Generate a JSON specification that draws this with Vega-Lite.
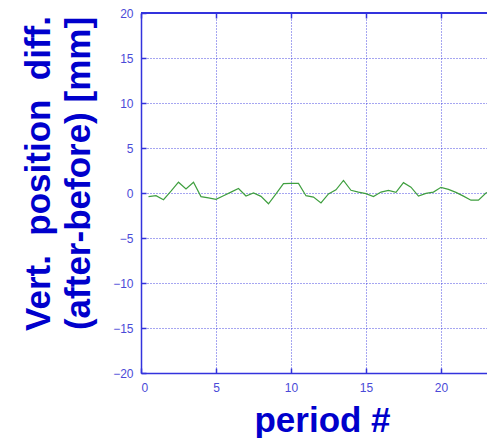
{
  "$schema": "https://vega.github.io/schema/vega-lite/v6.json",
  "autosize": {"type": "none"},
  "width": 346,
  "height": 360,
  "padding": {"left": 141, "top": 13, "right": 0, "bottom": 65},
  "background": "white",
  "view": {"stroke": null},
  "config": {"font": "Liberation Sans"},
  "data": {"values": [
    {"p": 0.5, "d": -0.4}, {"p": 1.0, "d": -0.3}, {"p": 1.5, "d": -0.75}, {"p": 2.0, "d": 0.2},
    {"p": 2.5, "d": 1.2}, {"p": 3.0, "d": 0.45}, {"p": 3.5, "d": 1.2}, {"p": 4.0, "d": -0.4},
    {"p": 4.5, "d": -0.55}, {"p": 5.0, "d": -0.7}, {"p": 5.5, "d": -0.3}, {"p": 6.0, "d": 0.1},
    {"p": 6.5, "d": 0.5}, {"p": 7.0, "d": -0.33}, {"p": 7.5, "d": 0.0}, {"p": 8.0, "d": -0.37},
    {"p": 8.5, "d": -1.2}, {"p": 9.0, "d": -0.1}, {"p": 9.5, "d": 1.05}, {"p": 10.0, "d": 1.07},
    {"p": 10.5, "d": 1.07}, {"p": 11.0, "d": -0.3}, {"p": 11.5, "d": -0.45}, {"p": 12.0, "d": -1.1},
    {"p": 12.5, "d": -0.1}, {"p": 13.0, "d": 0.35}, {"p": 13.5, "d": 1.4}, {"p": 14.0, "d": 0.3},
    {"p": 14.5, "d": 0.1}, {"p": 15.0, "d": -0.07}, {"p": 15.5, "d": -0.4}, {"p": 16.0, "d": 0.1},
    {"p": 16.5, "d": 0.3}, {"p": 17.0, "d": 0.07}, {"p": 17.5, "d": 1.15}, {"p": 18.0, "d": 0.65},
    {"p": 18.5, "d": -0.35}, {"p": 19.0, "d": -0.05}, {"p": 19.5, "d": 0.1}, {"p": 20.0, "d": 0.63},
    {"p": 20.5, "d": 0.4}, {"p": 21.0, "d": 0.07}, {"p": 21.5, "d": -0.35}, {"p": 22.0, "d": -0.8},
    {"p": 22.5, "d": -0.8}, {"p": 23.0, "d": 0.0}, {"p": 23.5, "d": 0.3}
  ]},
  "layer": [
    {
      "mark": {"type": "line", "color": "#3f9f3f", "strokeWidth": 1.2, "clip": true},
      "encoding": {
        "x": {"field": "p", "type": "quantitative",
          "scale": {"domain": [0, 23.07], "nice": false, "zero": false},
          "axis": {"values": [0, 5, 10, 15, 20], "title": "period #",
            "domainColor": "#3333dd", "domainWidth": 1.5,
            "tickColor": "#3333dd", "tickSize": -5, "tickWidth": 1.5,
            "labelColor": "#4a4ad8", "labelFontSize": 12, "labelPadding": 14,
            "labelFont": "Liberation Sans",
            "grid": true, "gridColor": "#3a3ae0", "gridDash": [1, 2], "gridOpacity": 0.9, "gridWidth": 1,
            "titleColor": "#0000cc", "titleFontSize": 35, "titleFontWeight": "bold",
            "titleX": 181, "titleY": 58, "titleBaseline": "alphabetic", "titleAnchor": null}},
        "y": {"field": "d", "type": "quantitative",
          "scale": {"domain": [-20, 20], "nice": false},
          "axis": {"values": [-20, -15, -10, -5, 0, 5, 10, 15, 20],
            "title": ["Vert.\u00a0 position\u00a0 diff.", "(after-before) [mm]"],
            "domainColor": "#3333dd", "domainWidth": 1.5,
            "tickColor": "#3333dd", "tickSize": -5, "tickWidth": 1.5,
            "labelColor": "#4a4ad8", "labelFontSize": 12, "labelPadding": 13,
            "grid": true, "gridColor": "#3a3ae0", "gridDash": [1, 2], "gridOpacity": 0.9, "gridWidth": 1,
            "titleColor": "#0000cc", "titleFontSize": 35, "titleFontWeight": "bold",
            "titleLineHeight": 40, "titleAngle": -90,
            "titleX": -120, "titleY": 160, "titleAlign": "center", "titleBaseline": "top"}}
      }
    },
    {
      "mark": {"type": "rule", "color": "#3333dd", "strokeWidth": 1.5},
      "encoding": {
        "y": {"datum": 20, "type": "quantitative"},
        "x": {"datum": 0, "type": "quantitative",
          "axis": {"orient": "top", "values": [0, 5, 10, 15, 20], "labels": false, "title": null,
            "domain": false, "grid": false, "tickColor": "#3333dd", "tickSize": -5, "tickWidth": 1.5}},
        "x2": {"datum": 23.07}
      }
    }
  ],
  "resolve": {"axis": {"x": "independent"}}
}
